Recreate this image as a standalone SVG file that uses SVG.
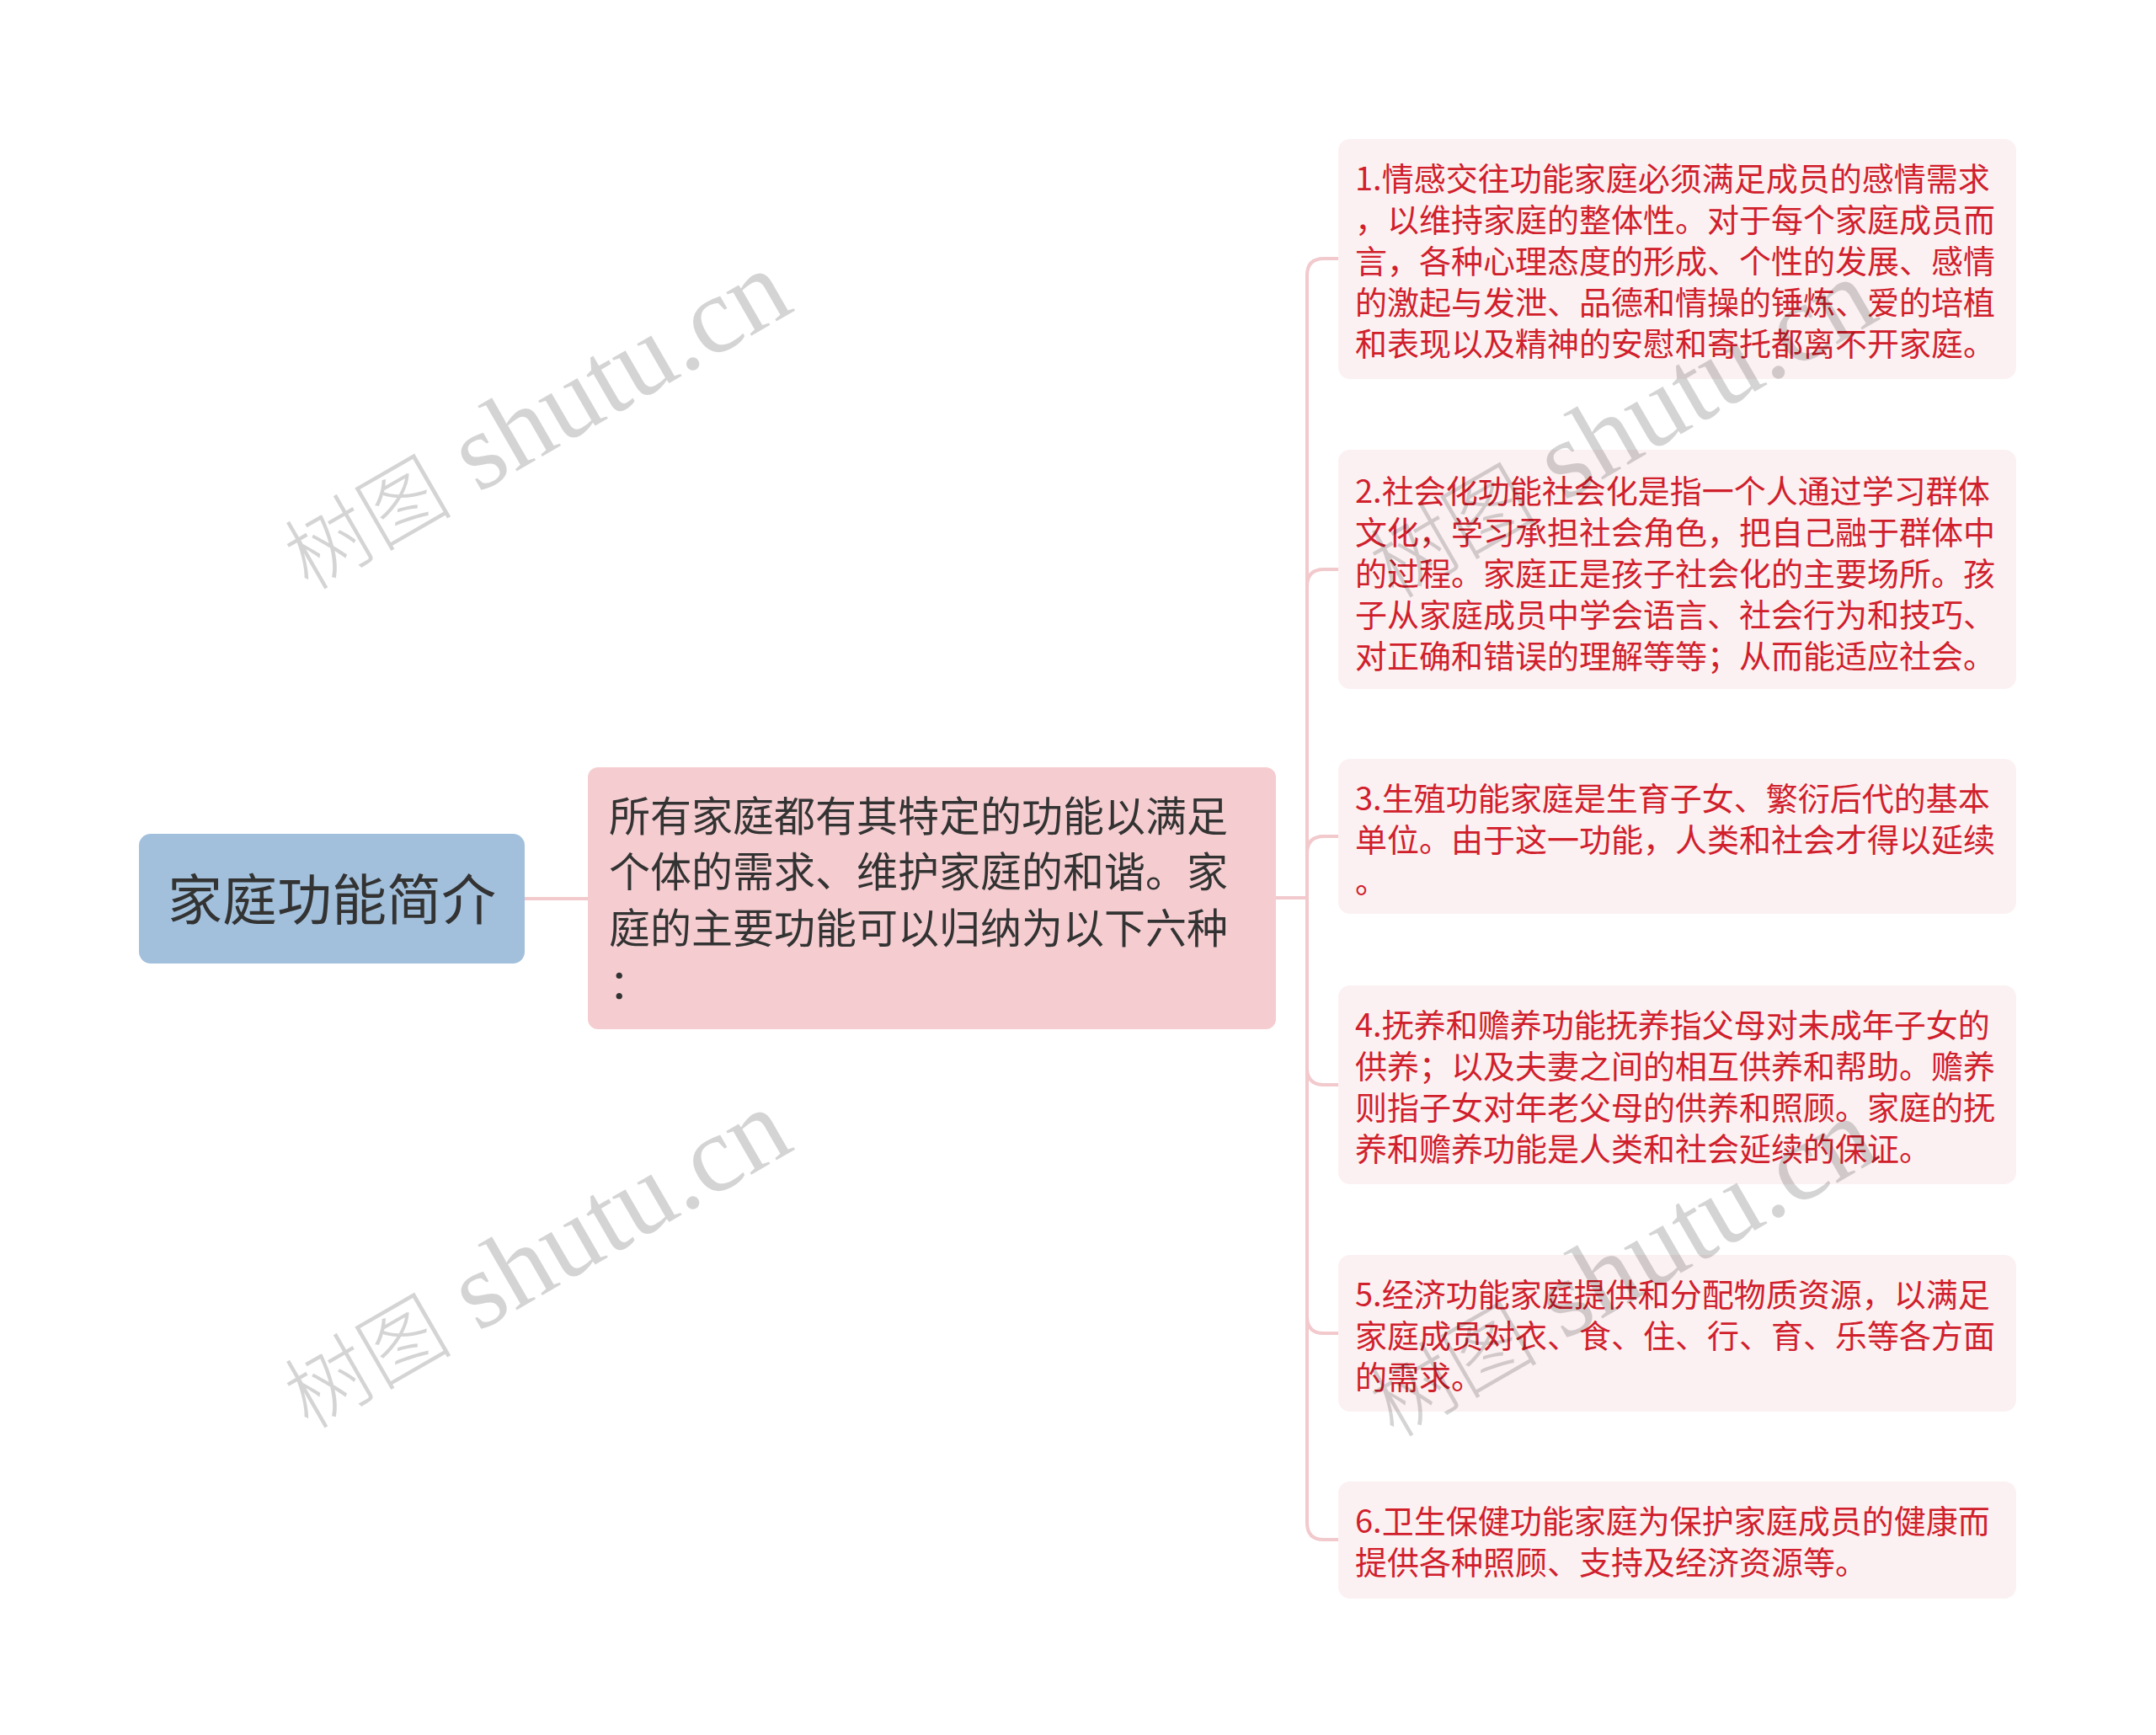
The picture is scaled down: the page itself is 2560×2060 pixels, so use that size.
<svg xmlns="http://www.w3.org/2000/svg" width="2560" height="2060" viewBox="0 0 2560 2060">
<style>
.bg{fill:#ffffff}
.root{fill:#a2c0dc}
.mid{fill:#f5cdd0}
.leaf{fill:#fcf1f2}
.t-root{font-family:"Noto Sans CJK SC","Noto Sans",sans-serif;font-size:65px;fill:#333333}
.t-mid{font-family:"Noto Sans CJK SC","Noto Sans",sans-serif;font-size:49px;fill:#333333}
.t-leaf{font-family:"Noto Sans CJK SC","Noto Sans",sans-serif;font-size:38px;fill:#d0202c}
.conn{fill:none;stroke:#f2c9cc;stroke-width:4}
.wm{font-family:"Liberation Serif","Noto Sans CJK SC",serif;font-size:130px;fill:#000000;fill-opacity:0.17}
.wmc{font-family:"Noto Sans CJK SC",serif;font-size:100px;font-weight:300}
</style>
<rect class="bg" x="0" y="0" width="2560" height="2060"/>
<g id="connectors">
<path class="conn" d="M623,1067 H698"/>
<path class="conn" d="M1515,1066 H1552 V327 Q1552,307 1572,307 H1589"/>
<path class="conn" d="M1552,1066 V696 Q1552,676 1572,676 H1589"/>
<path class="conn" d="M1552,1066 V1013 Q1552,993 1572,993 H1589"/>
<path class="conn" d="M1552,1066 V1268 Q1552,1288 1572,1288 H1589"/>
<path class="conn" d="M1552,1066 V1563 Q1552,1583 1572,1583 H1589"/>
<path class="conn" d="M1552,1066 V1808 Q1552,1828 1572,1828 H1589"/>
</g>
<g id="node-root">
<rect class="root" x="165" y="990" width="458" height="154" rx="14"/>
<text class="t-root" x="394" y="1092" text-anchor="middle">家庭功能简介</text>
</g>
<g id="node-mid">
<rect class="mid" x="698" y="911" width="817" height="311" rx="12"/>
<text class="t-mid" x="723" y="987">所有家庭都有其特定的功能以满足</text>
<text class="t-mid" x="723" y="1053">个体的需求、维护家庭的和谐。家</text>
<text class="t-mid" x="723" y="1120">庭的主要功能可以归纳为以下六种</text>
<text class="t-mid" x="723" y="1186">：</text>
</g>
<g id="node-1">
<rect class="leaf" x="1589" y="165" width="805" height="285" rx="14"/>
<text class="t-leaf" x="1609" y="226">1.情感交往功能家庭必须满足成员的感情需求</text>
<text class="t-leaf" x="1609" y="275">，以维持家庭的整体性。对于每个家庭成员而</text>
<text class="t-leaf" x="1609" y="324">言，各种心理态度的形成、个性的发展、感情</text>
<text class="t-leaf" x="1609" y="373">的激起与发泄、品德和情操的锤炼、爱的培植</text>
<text class="t-leaf" x="1609" y="422">和表现以及精神的安慰和寄托都离不开家庭。</text>
</g>
<g id="node-2">
<rect class="leaf" x="1589" y="534" width="805" height="284" rx="14"/>
<text class="t-leaf" x="1609" y="597">2.社会化功能社会化是指一个人通过学习群体</text>
<text class="t-leaf" x="1609" y="646">文化，学习承担社会角色，把自己融于群体中</text>
<text class="t-leaf" x="1609" y="695">的过程。家庭正是孩子社会化的主要场所。孩</text>
<text class="t-leaf" x="1609" y="744">子从家庭成员中学会语言、社会行为和技巧、</text>
<text class="t-leaf" x="1609" y="793">对正确和错误的理解等等；从而能适应社会。</text>
</g>
<g id="node-3">
<rect class="leaf" x="1589" y="901" width="805" height="184" rx="14"/>
<text class="t-leaf" x="1609" y="962">3.生殖功能家庭是生育子女、繁衍后代的基本</text>
<text class="t-leaf" x="1609" y="1011">单位。由于这一功能，人类和社会才得以延续</text>
<text class="t-leaf" x="1609" y="1060">。</text>
</g>
<g id="node-4">
<rect class="leaf" x="1589" y="1170" width="805" height="236" rx="14"/>
<text class="t-leaf" x="1609" y="1231">4.抚养和赡养功能抚养指父母对未成年子女的</text>
<text class="t-leaf" x="1609" y="1280">供养；以及夫妻之间的相互供养和帮助。赡养</text>
<text class="t-leaf" x="1609" y="1329">则指子女对年老父母的供养和照顾。家庭的抚</text>
<text class="t-leaf" x="1609" y="1378">养和赡养功能是人类和社会延续的保证。</text>
</g>
<g id="node-5">
<rect class="leaf" x="1589" y="1490" width="805" height="186" rx="14"/>
<text class="t-leaf" x="1609" y="1551">5.经济功能家庭提供和分配物质资源，以满足</text>
<text class="t-leaf" x="1609" y="1600">家庭成员对衣、食、住、行、育、乐等各方面</text>
<text class="t-leaf" x="1609" y="1649">的需求。</text>
</g>
<g id="node-6">
<rect class="leaf" x="1589" y="1759" width="805" height="139" rx="14"/>
<text class="t-leaf" x="1609" y="1820">6.卫生保健功能家庭为保护家庭成员的健康而</text>
<text class="t-leaf" x="1609" y="1869">提供各种照顾、支持及经济资源等。</text>
</g>
<g id="watermarks">
<text class="wm" x="0" y="0" text-anchor="middle" transform="translate(656 535) rotate(-30)"><tspan class="wmc">树图</tspan> shutu.cn</text>
<text class="wm" x="0" y="0" text-anchor="middle" transform="translate(656 1531) rotate(-30)"><tspan class="wmc">树图</tspan> shutu.cn</text>
<text class="wm" x="0" y="0" text-anchor="middle" transform="translate(1945 545) rotate(-30)"><tspan class="wmc">树图</tspan> shutu.cn</text>
<text class="wm" x="0" y="0" text-anchor="middle" transform="translate(1945 1541) rotate(-30)"><tspan class="wmc">树图</tspan> shutu.cn</text>
</g>
</svg>
